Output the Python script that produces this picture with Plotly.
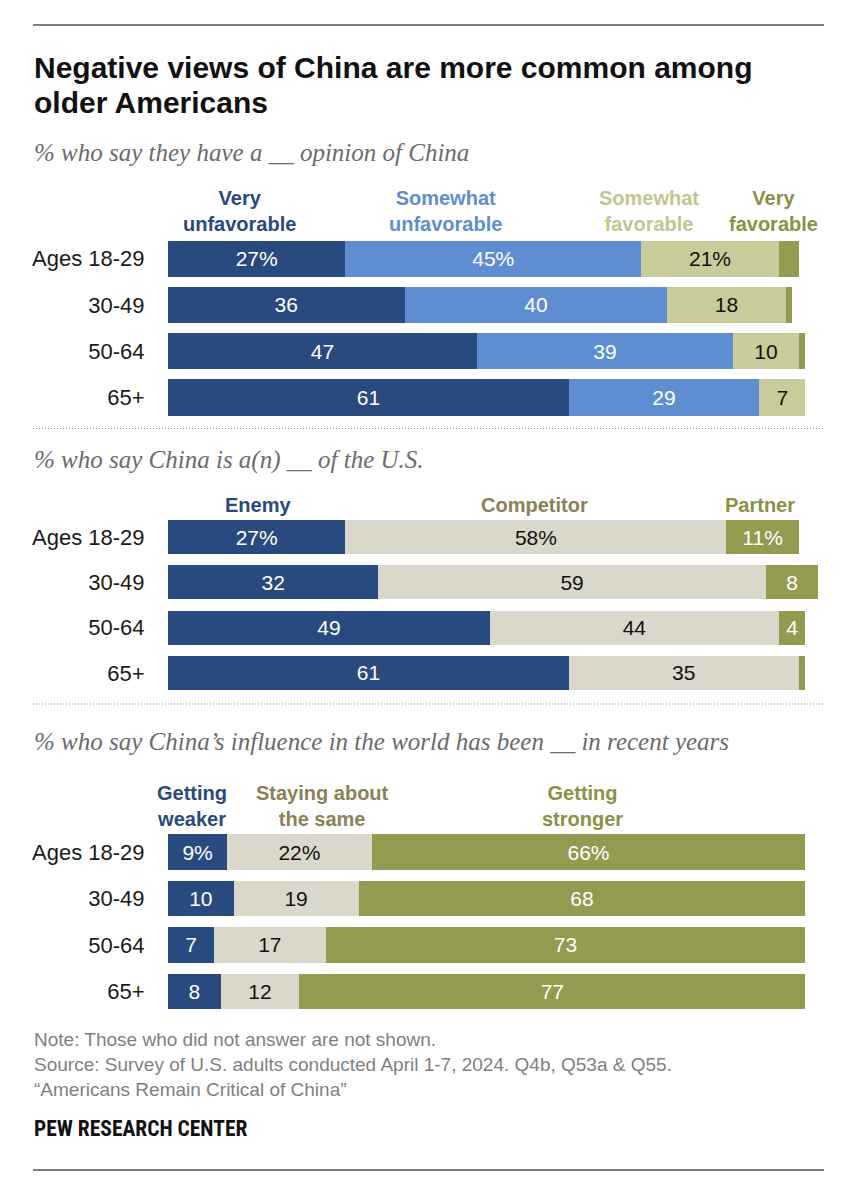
import plotly.graph_objects as go

W, H = 857, 1200


def px(x):
    return x / W


def py(y):
    return 1 - y / H


# ---------------- data ----------------
ages = ["Ages 18-29", "30-49", "50-64", "65+"]

very_unfav = [27, 36, 47, 61]
somewhat_unfav = [45, 40, 39, 29]
somewhat_fav = [21, 18, 10, 7]
very_fav = [3, 1, 1, 0]

enemy = [27, 32, 49, 61]
competitor = [58, 59, 44, 35]
partner = [11, 8, 4, 1]

weaker = [9, 10, 7, 8]
same = [22, 19, 17, 12]
stronger = [66, 68, 73, 77]

# ---------------- style ----------------
NAVY = "#284A7E"
BLUE = "#5E8ED1"
PALE_OLIVE = "#C9CB9A"
OLIVE = "#949B50"
BEIGE = "#DAD8CA"

FN = "Liberation Sans Narrow, Arial Narrow, Roboto Condensed, sans-serif"
FR = "Liberation Sans, Arial, Helvetica, sans-serif"
FS = "Liberation Serif, Times New Roman, serif"


def labels(vals):
    out = []
    for i, v in enumerate(vals):
        if v < 4:
            out.append("")
        elif i == 0:
            out.append(f"{v}%")
        else:
            out.append(str(v))
    return out


panels = [
    ("", [(very_unfav, NAVY, "white"), (somewhat_unfav, BLUE, "white"),
          (somewhat_fav, PALE_OLIVE, "#111111"), (very_fav, OLIVE, "white")]),
    ("2", [(enemy, NAVY, "white"), (competitor, BEIGE, "#111111"),
           (partner, OLIVE, "white")]),
    ("3", [(weaker, NAVY, "white"), (same, BEIGE, "#111111"),
           (stronger, OLIVE, "white")]),
]

# panel vertical extents (pixel rows: top, bottom) and bar thickness
ydoms = {"": (235.5, 420.7, 0.78), "2": (514.4, 695.6, 0.75),
         "3": (828.8, 1014.7, 0.77)}

fig = go.Figure()
for suf, series in panels:
    for vals, col, tcol in series:
        fig.add_trace(go.Bar(
            orientation="h", x=vals, y=ages,
            xaxis="x" + suf, yaxis="y" + suf,
            marker=dict(color=col, line=dict(width=0)),
            width=ydoms[suf][2],
            text=labels(vals), textposition="inside",
            insidetextanchor="middle",
            textfont=dict(color=tcol, size=21, family=FR),
            hoverinfo="skip", showlegend=False,
        ))

layout = dict(
    width=W, height=H,
    margin=dict(l=0, r=0, t=0, b=0),
    paper_bgcolor="white", plot_bgcolor="white",
    barmode="stack",
    uniformtext=dict(minsize=21, mode="show"),
    showlegend=False,
)
for suf, (t, b, _) in ydoms.items():
    layout["xaxis" + suf] = dict(domain=[px(168), px(825)], range=[0, 100],
                                 visible=False, fixedrange=True,
                                 anchor="y" + suf)
    layout["yaxis" + suf] = dict(domain=[py(b), py(t)], anchor="x" + suf,
                                 categoryorder="array", categoryarray=ages,
                                 autorange="reversed", showgrid=False,
                                 zeroline=False, showline=False,
                                 ticks="outside", ticklen=18,
                                 tickcolor="rgba(0,0,0,0)",
                                 tickfont=dict(size=22, color="#1a1a1a",
                                               family=FR))
fig.update_layout(**layout)

ann = []


def A(text, x, y, size, color, family=FR, xanchor="left"):
    ann.append(dict(text=text, x=px(x), y=py(y), xref="paper", yref="paper",
                    xanchor=xanchor, yanchor="middle", showarrow=False,
                    align=xanchor if xanchor != "center" else "center",
                    font=dict(size=size, color=color, family=family)))


# title
A("<b>Negative views of China are more common among</b>", 32, 68, 30, "#111111")
A("<b>older Americans</b>", 32, 103, 30, "#111111")

# subtitles
SUBC = "#6b6b6b"
A("<i>% who say they have a __ opinion of China</i>", 32, 152, 25, SUBC, FS)
A("<i>% who say China is a(n) __ of the U.S.</i>", 32, 460, 25, SUBC, FS)
A("<i>% who say China’s influence in the world has been __ in recent years</i>",
  32, 741, 25, SUBC, FS)


# column headers (one text block each, lines joined with <br>)
def HDR(lines, x, y, color):
    A("<b>" + "<br>".join(lines) + "</b>", x, y, 20, color, FR, "center")


HDR(["Very", "unfavorable"], 239, 211, NAVY)
HDR(["Somewhat", "unfavorable"], 445, 211, BLUE)
HDR(["Somewhat", "favorable"], 649, 211, "#C2C493")
HDR(["Very", "favorable"], 773, 211, "#8C9146")

HDR(["Enemy"], 258, 505, NAVY)
HDR(["Competitor"], 534, 505, "#8B8057")
HDR(["Partner"], 760, 505, "#8C9146")

HDR(["Getting", "weaker"], 192, 806, NAVY)
HDR(["Staying about", "the same"], 322, 806, "#8B8057")
HDR(["Getting", "stronger"], 582, 806, "#8C9146")

# notes
NOTEC = "#7f7f7f"
A("Note: Those who did not answer are not shown.", 32, 1039, 19, NOTEC)
A("Source: Survey of U.S. adults conducted April 1-7, 2024. Q4b, Q53a & Q55.",
  32, 1064, 19, NOTEC)
A("“Americans Remain Critical of China”", 32, 1089, 19, NOTEC)
A("<b>PEW RESEARCH CENTER</b>", 32, 1128, 21.5, "#111111", FN)

fig.update_layout(annotations=ann)

shapes = [
    dict(type="line", xref="paper", yref="paper", x0=px(33), x1=px(824),
         y0=py(25), y1=py(25), line=dict(color="#555555", width=1.5)),
    dict(type="line", xref="paper", yref="paper", x0=px(33), x1=px(824),
         y0=py(1170), y1=py(1170), line=dict(color="#555555", width=1.5)),
    dict(type="line", xref="paper", yref="paper", x0=px(33), x1=px(824),
         y0=py(428.5), y1=py(428.5),
         line=dict(color="#8a8a8a", width=1.2, dash="1px,2px")),
    dict(type="line", xref="paper", yref="paper", x0=px(33), x1=px(824),
         y0=py(704), y1=py(704),
         line=dict(color="#8a8a8a", width=1.2, dash="1px,2px")),
]
fig.update_layout(shapes=shapes)

fig.write_html("out.html")
